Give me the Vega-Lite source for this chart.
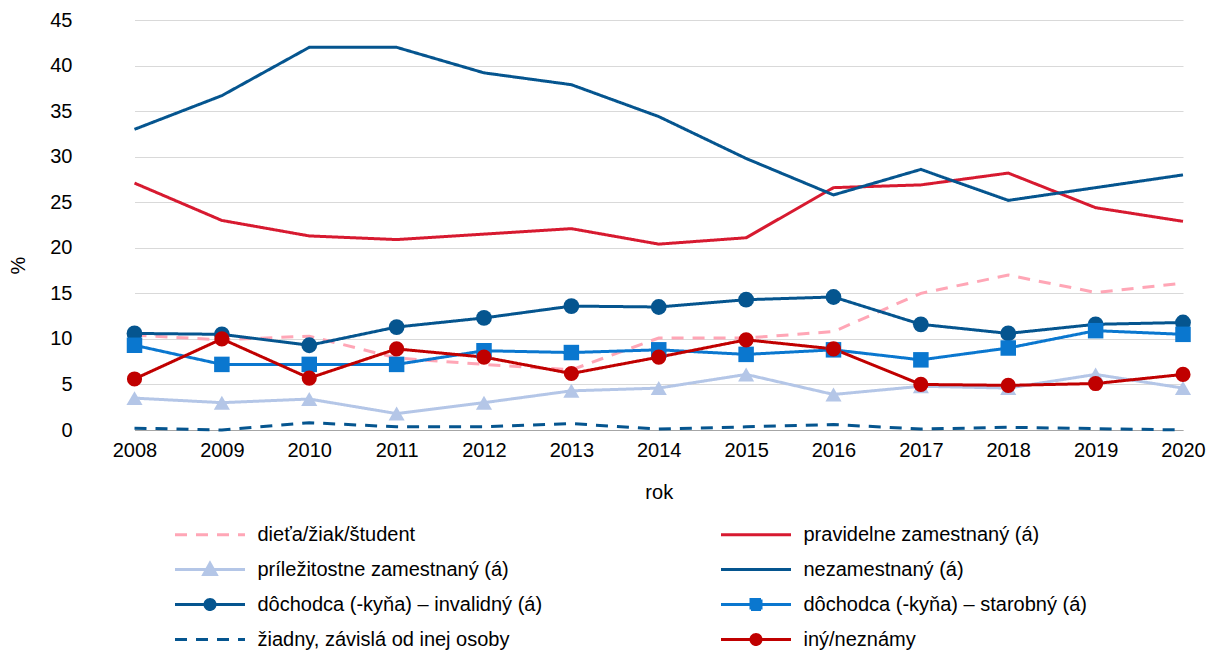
{
  "$schema": "https://vega.github.io/schema/vega-lite/v6.json",
  "width": 1127,
  "height": 410,
  "autosize": "none",
  "padding": {"left": 91, "top": 20, "right": 0, "bottom": 220},
  "background": "white",
  "config": {
    "font": "Liberation Sans",
    "view": {"stroke": null},
    "axis": {"labelFont": "Liberation Sans", "titleFont": "Liberation Sans", "labelColor": "#000000", "titleColor": "#000000", "labelFontSize": 20, "titleFontSize": 20, "titleFontWeight": "normal", "ticks": false},
    "legend": {"labelFont": "Liberation Sans", "labelFontSize": 20, "labelColor": "#000000"}
  },
  "data": {
    "values": [
      {"rok": "2008", "s": "dieťa/žiak/študent", "v": 10.4},
      {"rok": "2009", "s": "dieťa/žiak/študent", "v": 9.9},
      {"rok": "2010", "s": "dieťa/žiak/študent", "v": 10.3},
      {"rok": "2011", "s": "dieťa/žiak/študent", "v": 7.9},
      {"rok": "2012", "s": "dieťa/žiak/študent", "v": 7.2},
      {"rok": "2013", "s": "dieťa/žiak/študent", "v": 6.6},
      {"rok": "2014", "s": "dieťa/žiak/študent", "v": 10.1},
      {"rok": "2015", "s": "dieťa/žiak/študent", "v": 10.1},
      {"rok": "2016", "s": "dieťa/žiak/študent", "v": 10.8},
      {"rok": "2017", "s": "dieťa/žiak/študent", "v": 15.0},
      {"rok": "2018", "s": "dieťa/žiak/študent", "v": 17.0},
      {"rok": "2019", "s": "dieťa/žiak/študent", "v": 15.1},
      {"rok": "2020", "s": "dieťa/žiak/študent", "v": 16.1},

      {"rok": "2008", "s": "pravidelne zamestnaný (á)", "v": 27.1},
      {"rok": "2009", "s": "pravidelne zamestnaný (á)", "v": 23.0},
      {"rok": "2010", "s": "pravidelne zamestnaný (á)", "v": 21.3},
      {"rok": "2011", "s": "pravidelne zamestnaný (á)", "v": 20.9},
      {"rok": "2012", "s": "pravidelne zamestnaný (á)", "v": 21.5},
      {"rok": "2013", "s": "pravidelne zamestnaný (á)", "v": 22.1},
      {"rok": "2014", "s": "pravidelne zamestnaný (á)", "v": 20.4},
      {"rok": "2015", "s": "pravidelne zamestnaný (á)", "v": 21.1},
      {"rok": "2016", "s": "pravidelne zamestnaný (á)", "v": 26.6},
      {"rok": "2017", "s": "pravidelne zamestnaný (á)", "v": 26.9},
      {"rok": "2018", "s": "pravidelne zamestnaný (á)", "v": 28.2},
      {"rok": "2019", "s": "pravidelne zamestnaný (á)", "v": 24.4},
      {"rok": "2020", "s": "pravidelne zamestnaný (á)", "v": 22.9},

      {"rok": "2008", "s": "príležitostne zamestnaný (á)", "v": 3.5},
      {"rok": "2009", "s": "príležitostne zamestnaný (á)", "v": 3.0},
      {"rok": "2010", "s": "príležitostne zamestnaný (á)", "v": 3.4},
      {"rok": "2011", "s": "príležitostne zamestnaný (á)", "v": 1.8},
      {"rok": "2012", "s": "príležitostne zamestnaný (á)", "v": 3.0},
      {"rok": "2013", "s": "príležitostne zamestnaný (á)", "v": 4.3},
      {"rok": "2014", "s": "príležitostne zamestnaný (á)", "v": 4.6},
      {"rok": "2015", "s": "príležitostne zamestnaný (á)", "v": 6.1},
      {"rok": "2016", "s": "príležitostne zamestnaný (á)", "v": 3.9},
      {"rok": "2017", "s": "príležitostne zamestnaný (á)", "v": 4.8},
      {"rok": "2018", "s": "príležitostne zamestnaný (á)", "v": 4.6},
      {"rok": "2019", "s": "príležitostne zamestnaný (á)", "v": 6.1},
      {"rok": "2020", "s": "príležitostne zamestnaný (á)", "v": 4.6},

      {"rok": "2008", "s": "nezamestnaný (á)", "v": 33.0},
      {"rok": "2009", "s": "nezamestnaný (á)", "v": 36.7},
      {"rok": "2010", "s": "nezamestnaný (á)", "v": 42.0},
      {"rok": "2011", "s": "nezamestnaný (á)", "v": 42.0},
      {"rok": "2012", "s": "nezamestnaný (á)", "v": 39.2},
      {"rok": "2013", "s": "nezamestnaný (á)", "v": 37.9},
      {"rok": "2014", "s": "nezamestnaný (á)", "v": 34.4},
      {"rok": "2015", "s": "nezamestnaný (á)", "v": 29.8},
      {"rok": "2016", "s": "nezamestnaný (á)", "v": 25.8},
      {"rok": "2017", "s": "nezamestnaný (á)", "v": 28.6},
      {"rok": "2018", "s": "nezamestnaný (á)", "v": 25.2},
      {"rok": "2019", "s": "nezamestnaný (á)", "v": 26.6},
      {"rok": "2020", "s": "nezamestnaný (á)", "v": 28.0},

      {"rok": "2008", "s": "dôchodca (-kyňa) – invalidný (á)", "v": 10.6},
      {"rok": "2009", "s": "dôchodca (-kyňa) – invalidný (á)", "v": 10.5},
      {"rok": "2010", "s": "dôchodca (-kyňa) – invalidný (á)", "v": 9.3},
      {"rok": "2011", "s": "dôchodca (-kyňa) – invalidný (á)", "v": 11.3},
      {"rok": "2012", "s": "dôchodca (-kyňa) – invalidný (á)", "v": 12.3},
      {"rok": "2013", "s": "dôchodca (-kyňa) – invalidný (á)", "v": 13.6},
      {"rok": "2014", "s": "dôchodca (-kyňa) – invalidný (á)", "v": 13.5},
      {"rok": "2015", "s": "dôchodca (-kyňa) – invalidný (á)", "v": 14.3},
      {"rok": "2016", "s": "dôchodca (-kyňa) – invalidný (á)", "v": 14.6},
      {"rok": "2017", "s": "dôchodca (-kyňa) – invalidný (á)", "v": 11.6},
      {"rok": "2018", "s": "dôchodca (-kyňa) – invalidný (á)", "v": 10.6},
      {"rok": "2019", "s": "dôchodca (-kyňa) – invalidný (á)", "v": 11.6},
      {"rok": "2020", "s": "dôchodca (-kyňa) – invalidný (á)", "v": 11.8},

      {"rok": "2008", "s": "dôchodca (-kyňa) – starobný (á)", "v": 9.3},
      {"rok": "2009", "s": "dôchodca (-kyňa) – starobný (á)", "v": 7.2},
      {"rok": "2010", "s": "dôchodca (-kyňa) – starobný (á)", "v": 7.2},
      {"rok": "2011", "s": "dôchodca (-kyňa) – starobný (á)", "v": 7.2},
      {"rok": "2012", "s": "dôchodca (-kyňa) – starobný (á)", "v": 8.7},
      {"rok": "2013", "s": "dôchodca (-kyňa) – starobný (á)", "v": 8.5},
      {"rok": "2014", "s": "dôchodca (-kyňa) – starobný (á)", "v": 8.8},
      {"rok": "2015", "s": "dôchodca (-kyňa) – starobný (á)", "v": 8.3},
      {"rok": "2016", "s": "dôchodca (-kyňa) – starobný (á)", "v": 8.8},
      {"rok": "2017", "s": "dôchodca (-kyňa) – starobný (á)", "v": 7.7},
      {"rok": "2018", "s": "dôchodca (-kyňa) – starobný (á)", "v": 9.0},
      {"rok": "2019", "s": "dôchodca (-kyňa) – starobný (á)", "v": 10.9},
      {"rok": "2020", "s": "dôchodca (-kyňa) – starobný (á)", "v": 10.5},

      {"rok": "2008", "s": "žiadny, závislá od inej osoby", "v": 0.2},
      {"rok": "2009", "s": "žiadny, závislá od inej osoby", "v": 0.0},
      {"rok": "2010", "s": "žiadny, závislá od inej osoby", "v": 0.8},
      {"rok": "2011", "s": "žiadny, závislá od inej osoby", "v": 0.35},
      {"rok": "2012", "s": "žiadny, závislá od inej osoby", "v": 0.35},
      {"rok": "2013", "s": "žiadny, závislá od inej osoby", "v": 0.7},
      {"rok": "2014", "s": "žiadny, závislá od inej osoby", "v": 0.1},
      {"rok": "2015", "s": "žiadny, závislá od inej osoby", "v": 0.35},
      {"rok": "2016", "s": "žiadny, závislá od inej osoby", "v": 0.6},
      {"rok": "2017", "s": "žiadny, závislá od inej osoby", "v": 0.1},
      {"rok": "2018", "s": "žiadny, závislá od inej osoby", "v": 0.3},
      {"rok": "2019", "s": "žiadny, závislá od inej osoby", "v": 0.15},
      {"rok": "2020", "s": "žiadny, závislá od inej osoby", "v": 0.0},

      {"rok": "2008", "s": "iný/neznámy", "v": 5.6},
      {"rok": "2009", "s": "iný/neznámy", "v": 10.0},
      {"rok": "2010", "s": "iný/neznámy", "v": 5.7},
      {"rok": "2011", "s": "iný/neznámy", "v": 8.9},
      {"rok": "2012", "s": "iný/neznámy", "v": 8.0},
      {"rok": "2013", "s": "iný/neznámy", "v": 6.2},
      {"rok": "2014", "s": "iný/neznámy", "v": 8.0},
      {"rok": "2015", "s": "iný/neznámy", "v": 9.9},
      {"rok": "2016", "s": "iný/neznámy", "v": 8.9},
      {"rok": "2017", "s": "iný/neznámy", "v": 5.0},
      {"rok": "2018", "s": "iný/neznámy", "v": 4.9},
      {"rok": "2019", "s": "iný/neznámy", "v": 5.1},
      {"rok": "2020", "s": "iný/neznámy", "v": 6.1}
    ]
  },
  "encoding": {
    "x": {
      "field": "rok", "type": "ordinal",
      "scale": {"type": "point", "range": [43.5, 1092], "padding": 0},
      "axis": {"title": "rok", "labelAngle": 0, "domainColor": "#A6A6A6", "domainWidth": 1, "labelPadding": 10, "titlePadding": 22, "grid": false}
    },
    "y": {
      "field": "v", "type": "quantitative",
      "scale": {"domain": [0, 45], "nice": false, "zero": true},
      "axis": {"title": "%", "values": [0, 5, 10, 15, 20, 25, 30, 35, 40, 45], "domain": false, "grid": true, "gridColor": "#D9D9D9", "gridWidth": 1, "labelPadding": 19, "titleX": -63, "titleY": 245}
    },
    "color": {
      "field": "s", "type": "nominal",
      "scale": {
        "domain": ["dieťa/žiak/študent", "pravidelne zamestnaný (á)", "príležitostne zamestnaný (á)", "nezamestnaný (á)", "dôchodca (-kyňa) – invalidný (á)", "dôchodca (-kyňa) – starobný (á)", "žiadny, závislá od inej osoby", "iný/neznámy"],
        "range": ["#FFA6B6", "#D71A30", "#B4C6E7", "#05558F", "#05558F", "#0A77CF", "#05558F", "#C00000"]
      }
    }
  },
  "layer": [
    {
      "mark": {"type": "line", "strokeWidth": 3, "strokeCap": "butt"},
      "encoding": {
        "color": {
          "field": "s", "type": "nominal",
          "legend": {
            "title": null,
            "orient": "none",
            "legendX": 107.5,
            "legendY": 503,
            "direction": "horizontal",
            "columns": 2,
            "columnPadding": 172,
            "rowPadding": 12,
            "padding": 0,
            "symbolSize": 400,
            "symbolStrokeWidth": 3,
            "labelOffset": 36,
            "labelLimit": 400,
            "encode": {
              "symbols": {
                "update": {
                  "fill": {"scale": "color", "field": "value"},
                  "shape": {"signal": "datum.value === 'príležitostne zamestnaný (á)' ? 'M-3.5,0L3.5,0M0,-0.62L0.62,0.5L-0.62,0.5Z' : (datum.value === 'dôchodca (-kyňa) – starobný (á)' ? 'M-3.5,0L3.5,0M-0.5,-0.5L0.5,-0.5L0.5,0.5L-0.5,0.5Z' : ((datum.value === 'dôchodca (-kyňa) – invalidný (á)' || datum.value === 'iný/neznámy') ? 'M-3.5,0L3.5,0M0.5,0A0.5,0.5 0 1,1 -0.5,0A0.5,0.5 0 1,1 0.5,0Z' : 'M-3.5,0L3.5,0'))"}
                }
              }
            }
          }
        },
        "strokeDash": {
          "field": "s", "type": "nominal",
          "scale": {
            "domain": ["dieťa/žiak/študent", "pravidelne zamestnaný (á)", "príležitostne zamestnaný (á)", "nezamestnaný (á)", "dôchodca (-kyňa) – invalidný (á)", "dôchodca (-kyňa) – starobný (á)", "žiadny, závislá od inej osoby", "iný/neznámy"],
            "range": [[12, 9], [1, 0], [1, 0], [1, 0], [1, 0], [1, 0], [12, 9], [1, 0]]
          },
          "legend": {"title": null}
        }
      }
    },
    {
      "transform": [
        {"filter": {"field": "s", "oneOf": ["príležitostne zamestnaný (á)", "dôchodca (-kyňa) – invalidný (á)", "dôchodca (-kyňa) – starobný (á)", "iný/neznámy"]}}
      ],
      "mark": {"type": "point", "filled": true, "opacity": 1, "strokeWidth": 0},
      "encoding": {
        "color": {"field": "s", "type": "nominal", "legend": null},
        "shape": {
          "field": "s", "type": "nominal", "legend": null,
          "scale": {
            "domain": ["príležitostne zamestnaný (á)", "dôchodca (-kyňa) – invalidný (á)", "dôchodca (-kyňa) – starobný (á)", "iný/neznámy"],
            "range": ["triangle-up", "circle", "square", "circle"]
          }
        },
        "size": {
          "field": "s", "type": "nominal", "legend": null,
          "scale": {
            "domain": ["príležitostne zamestnaný (á)", "dôchodca (-kyňa) – invalidný (á)", "dôchodca (-kyňa) – starobný (á)", "iný/neznámy"],
            "range": [260, 230, 215, 230]
          }
        }
      }
    }
  ]
}
